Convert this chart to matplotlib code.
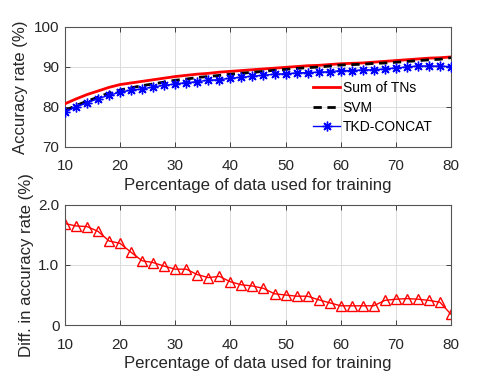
import matplotlib
matplotlib.use("Agg")
import matplotlib.pyplot as plt
import numpy as np

plt.rcParams['font.family'] = ['Liberation Sans', 'DejaVu Sans']

x_pct = list(range(10, 81, 2))
sum_tns = [80.8, 82.0, 83.1, 84.0, 84.9, 85.6, 86.0, 86.4, 86.8, 87.2, 87.6, 87.9,
           88.2, 88.4, 88.7, 88.9, 89.1, 89.3, 89.5, 89.7, 89.9, 90.1, 90.3, 90.4,
           90.6, 90.8, 90.9, 91.0, 91.2, 91.4, 91.6, 91.8, 92.0, 92.2, 92.3, 92.5]
svm = [79.11, 80.35, 81.46, 82.44, 83.50, 84.24, 84.79, 85.33, 85.76, 86.22, 86.67, 86.97,
       87.36, 87.61, 87.89, 88.18, 88.43, 88.65, 88.89, 89.18, 89.40, 89.62, 89.82, 89.98,
       90.23, 90.48, 90.58, 90.68, 90.88, 90.99, 91.17, 91.36, 91.57, 91.79, 91.92, 92.32]
tkd_concat = [78.7, 80.0, 81.0, 82.1, 82.9, 83.7, 84.2, 84.5, 85.0, 85.4, 85.75, 86.1,
              86.3, 86.7, 86.8, 87.2, 87.4, 87.7, 87.9, 88.2, 88.3, 88.5, 88.6, 88.7,
              88.8, 89.1, 89.1, 89.25, 89.3, 89.5, 89.75, 90.0, 90.25, 90.25, 90.2, 90.1]
diff = [1.69, 1.65, 1.64, 1.56, 1.40, 1.36, 1.21, 1.07, 1.04, 0.98, 0.93, 0.93,
        0.84, 0.79, 0.81, 0.72, 0.67, 0.65, 0.61, 0.52, 0.50, 0.48, 0.48, 0.42,
        0.37, 0.32, 0.32, 0.32, 0.32, 0.41, 0.43, 0.44, 0.43, 0.41, 0.38, 0.18]

xticks = [10, 20, 30, 40, 50, 60, 70, 80]
top_yticks = [70, 80, 90, 100]
bot_yticks = [0, 1.0, 2.0]
bot_yticklabels = ['0', '1.0', '2.0']

fig = plt.figure(figsize=(4.98, 3.74), dpi=100)
ax1 = fig.add_axes([0.1305, 0.607, 0.775, 0.321])
ax2 = fig.add_axes([0.1305, 0.131, 0.775, 0.321])

fs = 11
lfs = 12.1
axc = '#262626'

ax1.plot(x_pct, sum_tns, color='red', lw=2, label='Sum of TNs', zorder=3)
ax1.plot(x_pct, svm, color='black', lw=2, ls=(0, (3, 2)), label='SVM', zorder=3)
ax1.plot(x_pct, tkd_concat, color='blue', lw=1, marker=(8, 2, 0), ms=7, mew=1,
         label='TKD-CONCAT', zorder=4)
ax1.set_ylim(70, 100)
ax1.set_yticks(top_yticks)
ax1.set_ylabel('Accuracy rate (%)', fontsize=lfs, color=axc, labelpad=4)
leg = ax1.legend(loc='upper left', frameon=False, fontsize=10, handlelength=1.95,
                 handletextpad=0.2, labelspacing=0.4, borderpad=0, borderaxespad=0,
                 bbox_to_anchor=(0.6425, 0.55))

ax2.plot(x_pct, diff, color='red', lw=1, marker='^', ms=7, mfc='none', mec='red', mew=1)
ax2.set_ylim(0, 2)
ax2.set_yticks(bot_yticks)
ax2.set_yticklabels(bot_yticklabels)
ax2.set_ylabel('Diff. in accuracy rate (%)', fontsize=lfs, color=axc, labelpad=3)

for ax in (ax1, ax2):
    ax.set_xlim(10, 80)
    ax.set_xticks(xticks)
    ax.set_xlabel('Percentage of data used for training', fontsize=lfs, color=axc, labelpad=3)
    ax.grid(True, color='#dcdcdc', lw=0.7)
    ax.set_axisbelow(True)
    ax.tick_params(direction='in', top=True, right=True, labelsize=fs, colors=axc,
                   length=3.5, width=0.6)
    ax.tick_params(axis='x', pad=9)
    ax.tick_params(axis='y', pad=4)
    for s in ax.spines.values():
        s.set_color('#555555')
        s.set_linewidth(0.8)

fig.savefig('out.png', dpi=100)
